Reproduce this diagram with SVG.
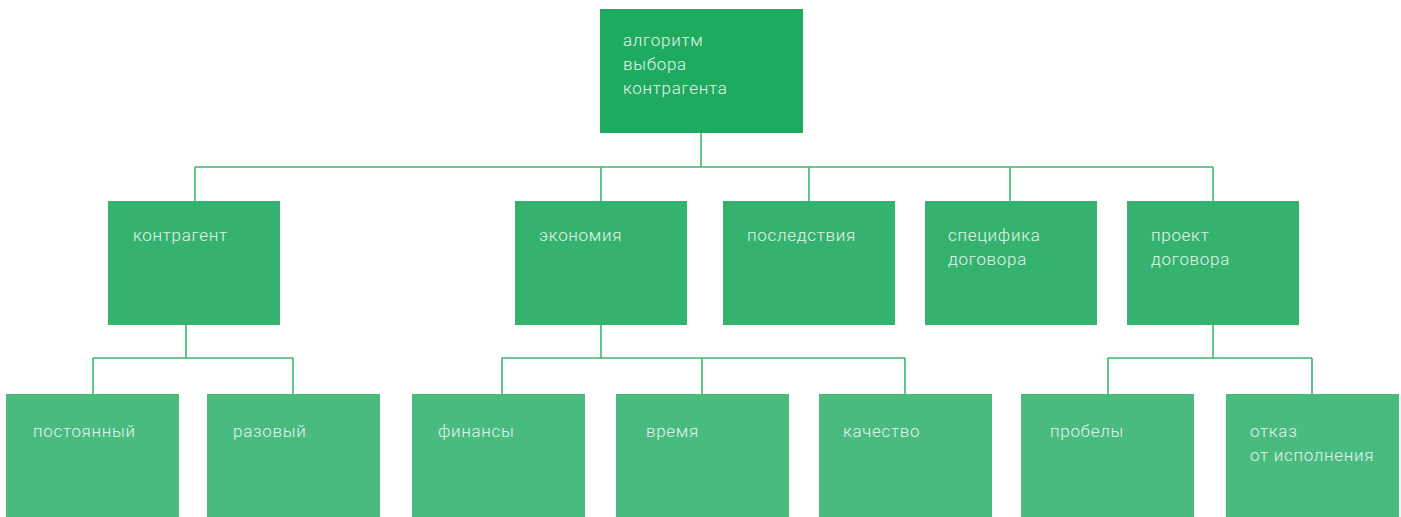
<svg xmlns="http://www.w3.org/2000/svg" width="1401" height="517" viewBox="0 0 1401 517">
<style>
.n0{fill:#1eab5f}
.n1{fill:#35b36e}
.n2{fill:#49bb7f}
.t{font-family:Roboto,"Liberation Sans",sans-serif;font-size:17px;letter-spacing:0.7px;fill:#e4f4ea;font-weight:300}
.c{fill:none;stroke:#3ab86f;stroke-width:1.6}
</style>
<rect width="1401" height="517" fill="#ffffff"/>
<g id="connectors">
<path class="c" d="M701 133V167M195 167H1213M195 167V201M601 167V201M809 167V201M1010 167V201M1213 167V201"/>
<path class="c" d="M186 325V358M93 358H293M93 358V394M293 358V394"/>
<path class="c" d="M601 325V358M502 358H905M502 358V394M702 358V394M905 358V394"/>
<path class="c" d="M1213 325V358M1108 358H1312M1108 358V394M1312 358V394"/>
</g>
<g id="root"><rect class="n0" x="600" y="9" width="203" height="124"/><text class="t" x="623" y="46">алгоритм</text><text class="t" x="623" y="70">выбора</text><text class="t" x="623" y="94">контрагента</text></g>
<g id="kontragent"><rect class="n1" x="108" y="201" width="172" height="124"/><text class="t" x="133" y="241">контрагент</text></g>
<g id="ekonomiya"><rect class="n1" x="515" y="201" width="172" height="124"/><text class="t" x="539" y="241">экономия</text></g>
<g id="posledstviya"><rect class="n1" x="723" y="201" width="172" height="124"/><text class="t" x="747" y="241">последствия</text></g>
<g id="specifika"><rect class="n1" x="925" y="201" width="172" height="124"/><text class="t" x="948" y="241">специфика</text><text class="t" x="948" y="265">договора</text></g>
<g id="proekt"><rect class="n1" x="1127" y="201" width="172" height="124"/><text class="t" x="1151" y="241">проект</text><text class="t" x="1151" y="265">договора</text></g>
<g id="postoyanny"><rect class="n2" x="6" y="394" width="173" height="123"/><text class="t" x="33" y="437">постоянный</text></g>
<g id="razovy"><rect class="n2" x="207" y="394" width="173" height="123"/><text class="t" x="233" y="437">разовый</text></g>
<g id="finansy"><rect class="n2" x="412" y="394" width="173" height="123"/><text class="t" x="438" y="437">финансы</text></g>
<g id="vremya"><rect class="n2" x="616" y="394" width="173" height="123"/><text class="t" x="646" y="437">время</text></g>
<g id="kachestvo"><rect class="n2" x="819" y="394" width="173" height="123"/><text class="t" x="843" y="437">качество</text></g>
<g id="probely"><rect class="n2" x="1021" y="394" width="173" height="123"/><text class="t" x="1050" y="437">пробелы</text></g>
<g id="otkaz"><rect class="n2" x="1226" y="394" width="173" height="123"/><text class="t" x="1250" y="437">отказ</text><text class="t" x="1250" y="461">от исполнения</text></g>
</svg>
